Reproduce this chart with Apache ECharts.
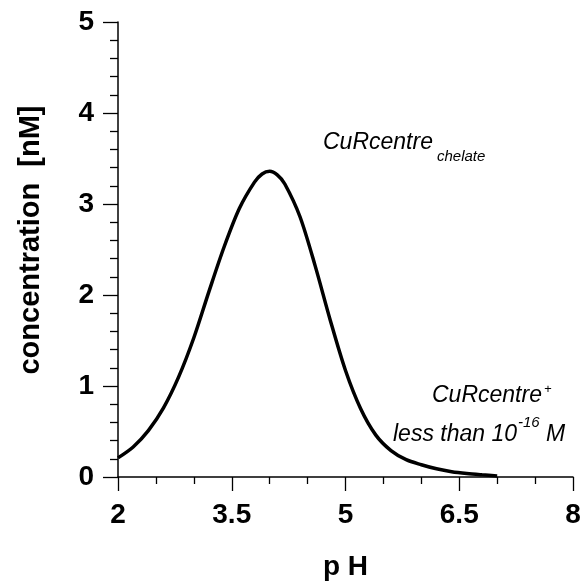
<!DOCTYPE html>
<html>
<head>
<meta charset="utf-8">
<script src="https://cdn.jsdelivr.net/npm/echarts@6/dist/echarts.min.js"></script>
<style>
html,body{margin:0;padding:0;background:#fff;}
#chart{width:586px;height:586px;}
</style>
</head>
<body>
<div id="chart"></div>
<script>
var pH = [2.0, 2.2, 2.4, 2.6, 2.8, 3.0, 3.2, 3.4, 3.6, 3.8, 3.9, 4.0, 4.1, 4.2, 4.4, 4.6, 4.8, 5.0, 5.2, 5.4, 5.6, 5.8, 6.0, 6.2, 6.4, 6.6, 6.8, 7.0];
var concentration = [0.21, 0.33, 0.51, 0.76, 1.10, 1.53, 2.04, 2.53, 2.95, 3.24, 3.33, 3.36, 3.32, 3.22, 2.86, 2.32, 1.72, 1.17, 0.75, 0.46, 0.29, 0.19, 0.135, 0.09, 0.058, 0.038, 0.024, 0.012];
var xTicks = [2, 3.5, 5, 6.5, 8];
var yTicks = [0, 1, 2, 3, 4, 5];
var xTitle = 'p H';
var yTitle = 'concentration  [nM]';

var data = pH.map(function (x, i) { return [x, concentration[i]]; });
var FONT = '"Liberation Sans", Arial, sans-serif';

var chart = echarts.init(document.getElementById('chart'), null, {renderer: 'canvas'});
chart.setOption({
  animation: false,
  backgroundColor: '#ffffff',
  grid: {left: 118, right: 13, top: 22, bottom: 106, containLabel: false},
  xAxis: {
    type: 'value',
    min: xTicks[0], max: xTicks[xTicks.length - 1], interval: 1.5,
    name: xTitle, nameLocation: 'middle', nameGap: 76,
    nameTextStyle: {fontFamily: FONT, fontWeight: 'bold', fontSize: 28, color: '#000'},
    axisLine: {show: true, onZero: false, lineStyle: {color: '#000', width: 1.5}},
    axisTick: {show: true, inside: false, length: 14, lineStyle: {color: '#000', width: 1.3}},
    minorTick: {show: true, splitNumber: 3, length: 7, lineStyle: {color: '#000', width: 1.3}},
    axisLabel: {margin: 24, fontFamily: FONT, fontWeight: 'bold', fontSize: 28, color: '#000',
      formatter: function (v) { return String(v); }},
    splitLine: {show: false}
  },
  yAxis: {
    type: 'value',
    min: yTicks[0], max: yTicks[yTicks.length - 1], interval: 1,
    axisLine: {show: true, onZero: false, lineStyle: {color: '#000', width: 1.5}},
    axisTick: {show: true, inside: false, length: 15, lineStyle: {color: '#000', width: 1.3}},
    minorTick: {show: true, splitNumber: 5, length: 8, lineStyle: {color: '#000', width: 1.3}},
    axisLabel: {margin: 24, fontFamily: FONT, fontWeight: 'bold', fontSize: 28, color: '#000'},
    splitLine: {show: false}
  },
  series: [{
    type: 'line',
    data: data,
    smooth: 0.3,
    showSymbol: false,
    symbol: 'none',
    lineStyle: {color: '#000', width: 3.5},
    z: 3
  }],
  graphic: [
    {type: 'text', x: 45, y: 240, rotation: Math.PI / 2,
      style: {text: yTitle, font: 'bold 29px ' + FONT, fill: '#000', align: 'center', verticalAlign: 'bottom'}},
    {type: 'text', left: 323, top: 131, style: {text: 'CuRcentre', font: 'italic 23px ' + FONT, fill: '#000'}},
    {type: 'text', left: 437, top: 149, style: {text: 'chelate', font: 'italic 15px ' + FONT, fill: '#000'}},
    {type: 'text', left: 432, top: 384, style: {text: 'CuRcentre', font: 'italic 23px ' + FONT, fill: '#000'}},
    {type: 'text', left: 544, top: 383, style: {text: '+', font: 'italic 13px ' + FONT, fill: '#000'}},
    {type: 'text', left: 393, top: 423, style: {text: 'less than 10', font: 'italic 23px ' + FONT, fill: '#000'}},
    {type: 'text', left: 518, top: 415, style: {text: '-16', font: 'italic 15px ' + FONT, fill: '#000'}},
    {type: 'text', left: 546, top: 423, style: {text: 'M', font: 'italic 23px ' + FONT, fill: '#000'}}
  ]
});
</script>
</body>
</html>
